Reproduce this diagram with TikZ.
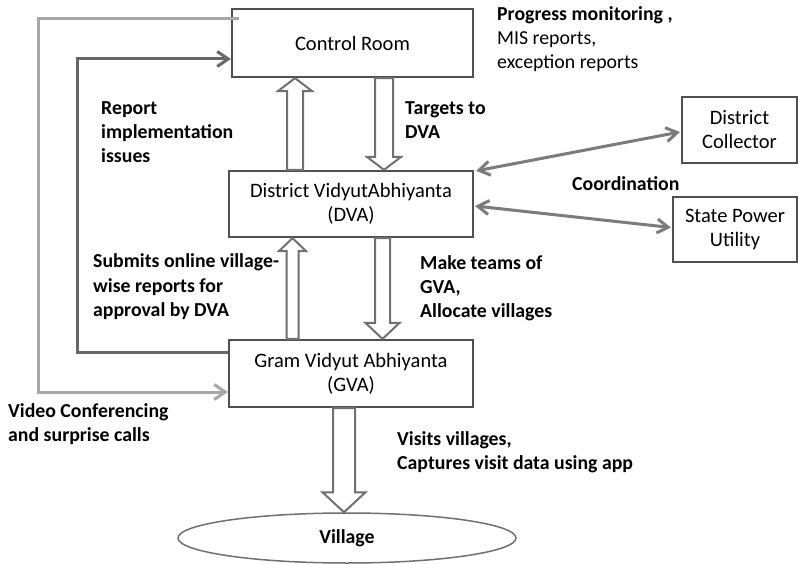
\documentclass[tikz,border=0pt]{standalone}
\usepackage{fontspec}
\setmainfont{Carlito}
\usetikzlibrary{arrows.meta,calc,shapes.geometric}

\definecolor{boxgray}{HTML}{505050}
\definecolor{shaftgray}{HTML}{707070}
\definecolor{lightline}{HTML}{A8A8A8}
\definecolor{darkline}{HTML}{686868}
\definecolor{linkgray}{HTML}{7C7C7C}

\newcommand\boxfont{\fontsize{20.5}{24}\selectfont}
\newcommand\lblfont{\fontsize{19.8}{24}\selectfont\bfseries}

% hollow block arrow pointing up: lower anchor, upper anchor, x, shaft half width, head half width, head length
\newcommand\hollowup[6]{%
  \draw[hollow] let \p1=(#1), \p2=(#2) in
    ({#3pt-#4pt},\y1) -- ({#3pt-#4pt},{\y2-#6pt}) -- ({#3pt-#5pt},{\y2-#6pt}) -- ({#3pt},\y2)
    -- ({#3pt+#5pt},{\y2-#6pt}) -- ({#3pt+#4pt},{\y2-#6pt}) -- ({#3pt+#4pt},\y1) -- cycle;}
% hollow block arrow pointing down: upper anchor, lower anchor, x, shaft half width, head half width, head length
\newcommand\hollowdown[6]{%
  \draw[hollow] let \p1=(#1), \p2=(#2) in
    ({#3pt-#4pt},\y1) -- ({#3pt-#4pt},{\y2+#6pt}) -- ({#3pt-#5pt},{\y2+#6pt}) -- ({#3pt},\y2)
    -- ({#3pt+#5pt},{\y2+#6pt}) -- ({#3pt+#4pt},{\y2+#6pt}) -- ({#3pt+#4pt},\y1) -- cycle;}

\begin{document}
\begin{tikzpicture}[x=1pt,y=-1pt,
  box/.style={draw=boxgray,line width=2.2pt,fill=white,inner sep=0pt,align=center,font=\boxfont},
  % multi-line labels are placed by the baseline of their last line
  lbl/.style={anchor=base west,inner sep=0pt,align=left,font=\lblfont},
  hollow/.style={draw=shaftgray,line width=2pt,fill=white,line join=miter},
  outerline/.style={draw=lightline,line width=3pt,-{Straight Barb[length=11pt,width=15pt]}},
  innerline/.style={draw=darkline,line width=3pt,-{Straight Barb[length=11pt,width=15pt]}},
  dbl/.style={draw=linkgray,line width=3pt,{Straight Barb[length=11pt,width=14pt]}-{Straight Barb[length=11pt,width=14pt]}}
]
\path[use as bounding box,fill=white] (0,0) rectangle (798,564);

% boxes
\node[box,minimum width=241pt,minimum height=68pt] (cr) at (352.5,43) {Control Room};
\node[box,minimum width=244pt,minimum height=66pt] (dva) at (351,204) {District VidyutAbhiyanta\\(DVA)};
\node[box,minimum width=244pt,minimum height=67pt] (gva) at (351,373.5) {Gram Vidyut Abhiyanta\\(GVA)};
\node[box,minimum width=115pt,minimum height=66pt] (dc) at (739.5,130) {District\\Collector};
\node[box,minimum width=124pt,minimum height=65pt] (spu) at (735,229.5) {State Power\\Utility};
\node[ellipse,draw=shaftgray,line width=1.5pt,minimum width=338pt,minimum height=50pt,inner sep=0pt,font=\lblfont] (vil) at (347,538) {Village};

% hollow block arrows between the levels
\hollowup{dva.north}{cr.south}{295}{8}{17}{13}
\hollowdown{cr.south}{dva.north}{384}{9}{17}{13}
\hollowup{gva.north}{dva.south}{292.5}{6}{13.5}{13}
\hollowdown{dva.south}{gva.north}{382.5}{7.5}{17}{16}
\hollowdown{gva.south}{vil.north}{344}{11}{21.5}{20}

% feedback lines on the left
\coordinate (outx) at (38,0);
\coordinate (inx) at (77,0);
\coordinate (outtop) at ($(cr.north west)+(8,11)$);
\coordinate (outbot) at ($(gva.west)+(0,18.5)$);
\coordinate (instart) at ($(gva.north west)+(0,14)$);
\coordinate (inend) at ($(cr.west)+(0,16)$);
\draw[innerline] (instart) -- (instart -| inx) -- (inend -| inx) -- (inend);
\draw[outerline] (outtop) -- (outtop -| outx) -- (outbot -| outx) -- (outbot);

% coordination links
\draw[dbl] ($(dva.north east)+(2,1)$) -- ($(dc.west)+(-1,2)$);
\draw[dbl] ($(dva.east)+(1,2)$) -- ($(spu.west)+(-1,-2)$);

% labels
\node[lbl] (lpm) at (497,69) {Progress monitoring ,\\\mdseries MIS reports,\\\mdseries exception reports};
\node[lbl] (lri) at (101,163) {Report\\implementation\\issues};
\node[lbl] (ltg) at (405,139) {Targets to\\DVA};
\node[lbl] (lco) at (572,191) {Coordination};
\node[lbl] (lsub) at (93,316) {Submits online village-\\wise reports for\\approval by DVA};
\node[lbl] (lmk) at (420,317) {Make teams of\\GVA,\\Allocate villages};
\node[lbl] (lvc) at (8,441) {Video Conferencing\\and surprise calls};
\node[lbl] (lvs) at (397,469) {Visits villages,\\Captures visit data using app};
\end{tikzpicture}
\end{document}
